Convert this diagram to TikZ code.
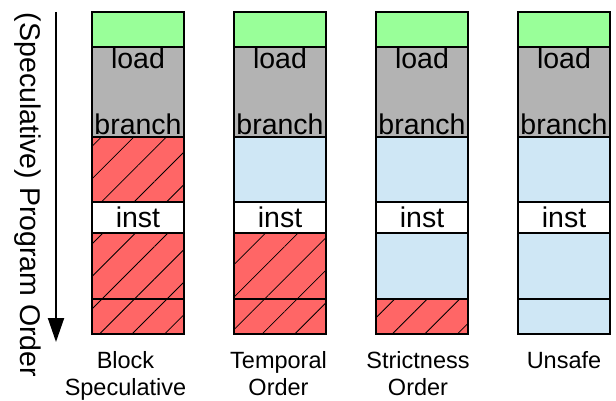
\documentclass[tikz,border=0pt]{standalone}
\usepackage{fontspec}
\setmainfont{Liberation Sans}
\usetikzlibrary{arrows.meta,patterns.meta}
\definecolor{slotgreen}{RGB}{153,255,153}
\definecolor{slotgray}{RGB}{179,179,179}
\definecolor{slotblue}{RGB}{207,231,245}
\definecolor{slotred}{RGB}{255,102,102}
\tikzset{
  slot/.style={
    draw=black,
    line width=2pt,
    inner sep=0pt,
    outer sep=0pt,
    anchor=north west,
    minimum width=92pt
  },
  slot-green/.style={slot, fill=slotgreen},
  slot-gray/.style={slot, fill=slotgray},
  slot-white/.style={slot, fill=white},
  slot-blue/.style={slot, fill=slotblue},
  slot-red/.style={slot, fill=slotred,
    postaction={pattern={Lines[angle=45,distance=23pt,line width=0.8pt]}, pattern color=black}},
  slot-text/.style={inner sep=0pt},
  caption/.style={anchor=north, align=center, inner sep=0pt, font=\fontsize{23.5}{27}\selectfont},
  order-arrow/.style={line width=2pt, -{Triangle[width=16pt,length=24pt]}}
}

\begin{document}
\begin{tikzpicture}[x=1pt, y=-1pt, font=\fontsize{28.5}{32}\selectfont]
  \useasboundingbox (0,0) rectangle (616,401);
  % Program order axis
  \coordinate (order-top) at (56,12);
  \coordinate (order-tip) at (56,342);
  \draw[order-arrow] (order-top) -- (order-tip);
  \node[slot-text, rotate=-90] (order-label) at (27.5,195) {(Speculative) Program Order};
  % Draw the four columns
  \foreach \c/\x/\fa/\fb/\fc in {1/92/red/red/red, 2/234/blue/red/red, 3/376/blue/blue/red, 4/518/blue/blue/blue} {
    \node[slot-green, minimum height=35pt] (green\c) at (\x,12) {};
    \node[slot-gray, minimum height=90pt] (gray\c) at (\x,47) {};
    \node[slot-text, anchor=north] (load\c) at ([yshift=-1pt]gray\c.north) {load};
    \node[slot-text, anchor=base] (branch\c) at ([yshift=2pt]gray\c.south) {branch};
    \node[slot-\fa, minimum height=65pt] (spec\c) at (\x,137) {};
    \node[slot-white, minimum height=31pt] (inst\c) at (\x,202) {inst};
    \node[slot-\fb, minimum height=66pt] (after\c) at (\x,233) {};
    \node[slot-\fc, minimum height=35pt] (tail\c) at (\x,299) {};
  }
  % Captions
  \foreach \c/\lx/\txt in {1/125.5/{Block\\Speculative}, 2/278.5/{Temporal\\Order}, 3/418/{Strictness\\Order}, 4/564/{Unsafe}} {
    \node[caption] (caption\c) at (\lx,351) {\txt};
  }
\end{tikzpicture}
\end{document}
